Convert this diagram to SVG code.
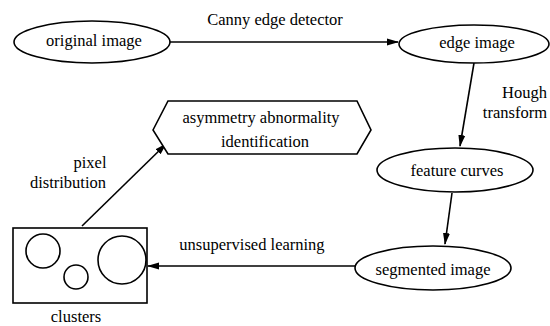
<svg xmlns="http://www.w3.org/2000/svg" width="550" height="326" viewBox="0 0 550 326">
<defs>
<style>
.n{fill:#fff;stroke:#000;stroke-width:1.6}
.c{stroke:#000;stroke-width:1.6;fill:none}
text{font-size:16.5px;fill:#000}
.m{text-anchor:middle}
</style>
<marker id="ah" markerWidth="12" markerHeight="8" refX="11" refY="4" orient="auto" markerUnits="userSpaceOnUse">
<path d="M0,0.5 L12,4 L0,7.5 Z" fill="#000"/>
</marker>
</defs>
<rect width="550" height="326" fill="#fff"/>
<g font-family="Liberation Serif, DejaVu Serif, serif">
<g id="connectors">
<line class="c" x1="170" y1="42" x2="398" y2="42" marker-end="url(#ah)"/>
<text class="m" x="275" y="25">Canny edge detector</text>
<line class="c" x1="474" y1="63" x2="460" y2="146" marker-end="url(#ah)"/>
<text x="547" y="98" text-anchor="end">Hough</text>
<text x="547" y="118" text-anchor="end">transform</text>
<line class="c" x1="452" y1="193" x2="445" y2="244" marker-end="url(#ah)"/>
<line class="c" x1="355" y1="266" x2="148" y2="266" marker-end="url(#ah)"/>
<text class="m" x="252" y="250">unsupervised learning</text>
<line class="c" x1="82" y1="226" x2="166" y2="144" marker-end="url(#ah)"/>
<text class="m" x="90" y="168">pixel</text>
<text class="m" x="68" y="188">distribution</text>
</g>
<g id="original">
<ellipse class="n" cx="92" cy="42" rx="78" ry="21"/>
<text class="m" x="94" y="46">original image</text>
</g>
<g id="edge">
<ellipse class="n" cx="474" cy="44" rx="75" ry="19"/>
<text class="m" x="477" y="48">edge image</text>
</g>
<g id="feature">
<ellipse class="n" cx="455" cy="170" rx="78" ry="22"/>
<text class="m" x="457" y="176">feature curves</text>
</g>
<g id="segmented">
<ellipse class="n" cx="433" cy="268" rx="78" ry="22"/>
<text class="m" x="433" y="275">segmented image</text>
</g>
<g id="asymmetry">
<polygon class="n" points="153,130 168,101 357,101 371,130 357,154 168,154"/>
<text class="m" x="261" y="123">asymmetry abnormality</text>
<text class="m" x="265" y="147">identification</text>
</g>
<g id="clusters">
<rect class="n" x="13" y="228" width="134" height="75"/>
<circle class="n" cx="43" cy="251" r="17"/>
<circle class="n" cx="76" cy="277" r="12"/>
<circle class="n" cx="122" cy="260" r="24"/>
<text class="m" x="76" y="322">clusters</text>
</g>
</g>
</svg>
